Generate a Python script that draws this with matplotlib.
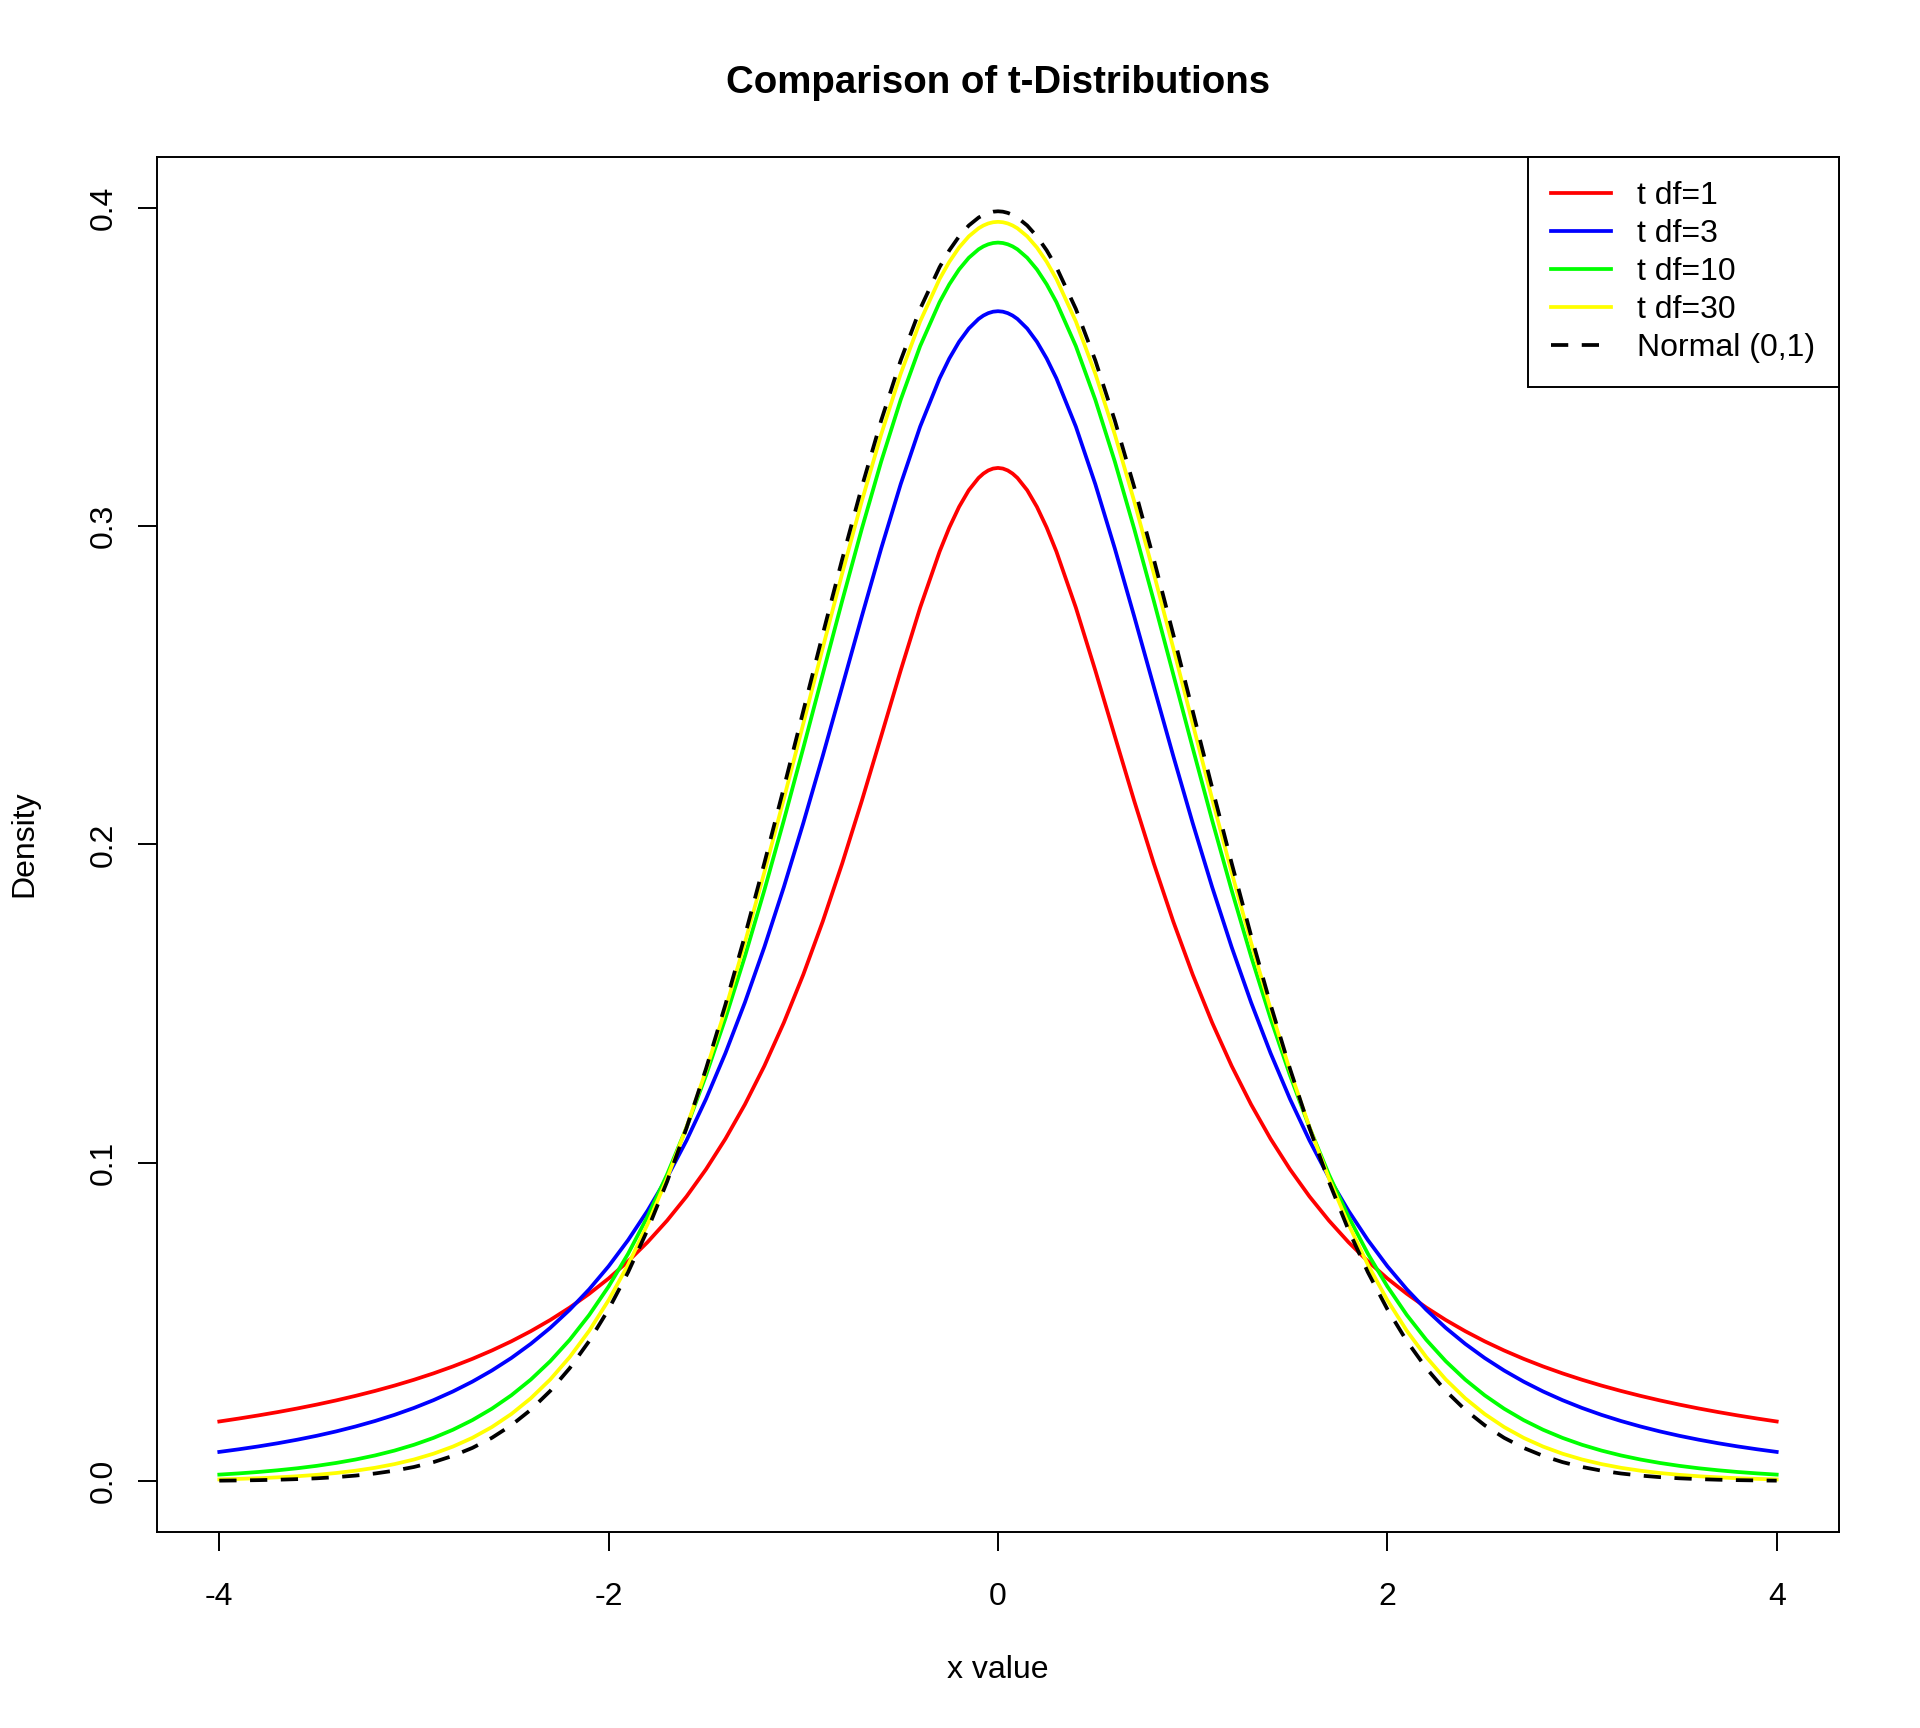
import matplotlib
matplotlib.use("Agg")
import matplotlib.pyplot as plt

plt.rcParams['font.family'] = ['Liberation Sans', 'DejaVu Sans']

# x positions the curves were read at (denser around the peak)
x_vals = [-4.0, -3.9, -3.8, -3.7, -3.6, -3.5, -3.4, -3.3, -3.2, -3.1, -3.0,
          -2.9, -2.8, -2.7, -2.6, -2.5, -2.4, -2.3, -2.2, -2.1, -2.0,
          -1.9, -1.8, -1.7, -1.6, -1.5, -1.4, -1.3, -1.2, -1.1, -1.0,
          -0.9, -0.8, -0.7, -0.6, -0.5, -0.4, -0.3, -0.25, -0.2, -0.15,
          -0.1, -0.075, -0.05, -0.025, 0.0, 0.025, 0.05, 0.075, 0.1,
          0.15, 0.2, 0.25, 0.3, 0.4, 0.5, 0.6, 0.7, 0.8, 0.9, 1.0,
          1.1, 1.2, 1.3, 1.4, 1.5, 1.6, 1.7, 1.8, 1.9, 2.0,
          2.1, 2.2, 2.3, 2.4, 2.5, 2.6, 2.7, 2.8, 2.9, 3.0,
          3.1, 3.2, 3.3, 3.4, 3.5, 3.6, 3.7, 3.8, 3.9, 4.0]

t_df1 = [0.01872, 0.01964, 0.02062, 0.02167, 0.02280, 0.02402, 0.02534, 0.02677,
         0.02832, 0.03000, 0.03183, 0.03383, 0.03601, 0.03840, 0.04102, 0.04390,
         0.04709, 0.05061, 0.05451, 0.05884, 0.06366, 0.06905, 0.07507, 0.08183,
         0.08941, 0.09794, 0.10754, 0.11833, 0.13045, 0.14403, 0.15915, 0.17586,
         0.19409, 0.21363, 0.23405, 0.25465, 0.27441, 0.29203, 0.29959, 0.30607,
         0.31131, 0.31516, 0.31653, 0.31752, 0.31811,
         0.31831,
         0.31811, 0.31752, 0.31653, 0.31516, 0.31131, 0.30607, 0.29959, 0.29203,
         0.27441, 0.25465, 0.23405, 0.21363, 0.19409, 0.17586, 0.15915, 0.14403,
         0.13045, 0.11833, 0.10754, 0.09794, 0.08941, 0.08183, 0.07507, 0.06905,
         0.06366, 0.05884, 0.05451, 0.05061, 0.04709, 0.04390, 0.04102, 0.03840,
         0.03601, 0.03383, 0.03183, 0.03000, 0.02832, 0.02677, 0.02534, 0.02402,
         0.02280, 0.02167, 0.02062, 0.01964, 0.01872]

t_df3 = [0.00916, 0.00998, 0.01088, 0.01188, 0.01299, 0.01422, 0.01560, 0.01715,
         0.01887, 0.02080, 0.02297, 0.02541, 0.02815, 0.03124, 0.03473, 0.03866,
         0.04311, 0.04813, 0.05382, 0.06025, 0.06751, 0.07571, 0.08496, 0.09535,
         0.10701, 0.12002, 0.13446, 0.15039, 0.16780, 0.18664, 0.20675, 0.22788,
         0.24967, 0.27159, 0.29301, 0.31318, 0.33128, 0.34645, 0.35270, 0.35794,
         0.36210, 0.36511, 0.36618, 0.36694, 0.36740,
         0.36755,
         0.36740, 0.36694, 0.36618, 0.36511, 0.36210, 0.35794, 0.35270, 0.34645,
         0.33128, 0.31318, 0.29301, 0.27159, 0.24967, 0.22788, 0.20675, 0.18664,
         0.16780, 0.15039, 0.13446, 0.12002, 0.10701, 0.09535, 0.08496, 0.07571,
         0.06751, 0.06025, 0.05382, 0.04813, 0.04311, 0.03866, 0.03473, 0.03124,
         0.02815, 0.02541, 0.02297, 0.02080, 0.01887, 0.01715, 0.01560, 0.01422,
         0.01299, 0.01188, 0.01088, 0.00998, 0.00916]

t_df10 = [0.00203, 0.00241, 0.00285, 0.00339, 0.00402, 0.00478, 0.00569, 0.00677,
          0.00805, 0.00958, 0.01140, 0.01356, 0.01612, 0.01915, 0.02273, 0.02694,
          0.03188, 0.03766, 0.04438, 0.05217, 0.06115, 0.07142, 0.08312, 0.09631,
          0.11108, 0.12745, 0.14539, 0.16485, 0.18566, 0.20761, 0.23036, 0.25353,
          0.27663, 0.29909, 0.32033, 0.33969, 0.35658, 0.37040, 0.37600, 0.38066,
          0.38433, 0.38698, 0.38791, 0.38857, 0.38897,
          0.38911,
          0.38897, 0.38857, 0.38791, 0.38698, 0.38433, 0.38066, 0.37600, 0.37040,
          0.35658, 0.33969, 0.32033, 0.29909, 0.27663, 0.25353, 0.23036, 0.20761,
          0.18566, 0.16485, 0.14539, 0.12745, 0.11108, 0.09631, 0.08312, 0.07142,
          0.06115, 0.05217, 0.04438, 0.03766, 0.03188, 0.02694, 0.02273, 0.01915,
          0.01612, 0.01356, 0.01140, 0.00958, 0.00805, 0.00677, 0.00569, 0.00478,
          0.00402, 0.00339, 0.00285, 0.00241, 0.00203]

t_df30 = [0.00052, 0.00069, 0.00090, 0.00117, 0.00151, 0.00196, 0.00253, 0.00326,
          0.00417, 0.00533, 0.00678, 0.00859, 0.01083, 0.01358, 0.01696, 0.02106,
          0.02600, 0.03192, 0.03895, 0.04721, 0.05685, 0.06798, 0.08071, 0.09510,
          0.11119, 0.12896, 0.14834, 0.16919, 0.19129, 0.21435, 0.23799, 0.26179,
          0.28523, 0.30777, 0.32884, 0.34788, 0.36432, 0.37768, 0.38307, 0.38755,
          0.39106, 0.39359, 0.39448, 0.39512, 0.39550,
          0.39563,
          0.39550, 0.39512, 0.39448, 0.39359, 0.39106, 0.38755, 0.38307, 0.37768,
          0.36432, 0.34788, 0.32884, 0.30777, 0.28523, 0.26179, 0.23799, 0.21435,
          0.19129, 0.16919, 0.14834, 0.12896, 0.11119, 0.09510, 0.08071, 0.06798,
          0.05685, 0.04721, 0.03895, 0.03192, 0.02600, 0.02106, 0.01696, 0.01358,
          0.01083, 0.00859, 0.00678, 0.00533, 0.00417, 0.00326, 0.00253, 0.00196,
          0.00151, 0.00117, 0.00090, 0.00069, 0.00052]

normal = [0.00013, 0.00020, 0.00029, 0.00042, 0.00061, 0.00087, 0.00123, 0.00172,
          0.00238, 0.00327, 0.00443, 0.00595, 0.00792, 0.01042, 0.01358, 0.01753,
          0.02239, 0.02833, 0.03547, 0.04398, 0.05399, 0.06562, 0.07895, 0.09405,
          0.11092, 0.12952, 0.14973, 0.17137, 0.19419, 0.21785, 0.24197, 0.26609,
          0.28969, 0.31225, 0.33322, 0.35207, 0.36827, 0.38139, 0.38667, 0.39104,
          0.39448, 0.39695, 0.39782, 0.39844, 0.39882,
          0.39894,
          0.39882, 0.39844, 0.39782, 0.39695, 0.39448, 0.39104, 0.38667, 0.38139,
          0.36827, 0.35207, 0.33322, 0.31225, 0.28969, 0.26609, 0.24197, 0.21785,
          0.19419, 0.17137, 0.14973, 0.12952, 0.11092, 0.09405, 0.07895, 0.06562,
          0.05399, 0.04398, 0.03547, 0.02833, 0.02239, 0.01753, 0.01358, 0.01042,
          0.00792, 0.00595, 0.00443, 0.00327, 0.00238, 0.00172, 0.00123, 0.00087,
          0.00061, 0.00042, 0.00029, 0.00020, 0.00013]

labels = ["t df=1", "t df=3", "t df=10", "t df=30", "Normal (0,1)"]
colors = ["#FF0000", "#0000FF", "#00FF00", "#FFFF00", "black"]

for s in (t_df1, t_df3, t_df10, t_df30, normal):
    assert len(s) == len(x_vals)

FS = 23
fig = plt.figure(figsize=(19.2, 17.28), dpi=100)
ax = fig.add_axes([0.08177, 0.11343, 0.87604, 0.79572])

lw = 2.7
for ys, c, lab in zip([t_df1, t_df3, t_df10, t_df30], colors[:4], labels[:4]):
    ax.plot(x_vals, ys, color=c, lw=lw, label=lab, solid_joinstyle="round")
ax.plot(x_vals, normal, color=colors[4], lw=lw, dashes=(4.6, 3.6), label=labels[4])

# R-style axis ranges (4% padding)
ax.set_xlim(-4.32, 4.32)
ax.set_ylim(-0.016, 0.416)
ax.set_xticks([-4, -2, 0, 2, 4])
ax.set_xticklabels(["-4", "-2", "0", "2", "4"])
ax.set_yticks([0.0, 0.1, 0.2, 0.3, 0.4])
ax.set_yticklabels(["0.0", "0.1", "0.2", "0.3", "0.4"], rotation=90, va="center")

for s in ax.spines.values():
    s.set_linewidth(1.4)
ax.tick_params(axis="both", direction="out", length=13.7, width=1.4, labelsize=FS)
ax.tick_params(axis="x", pad=22)
ax.tick_params(axis="y", pad=14)

fig.text(0.5198, 1 - 83 / 1728, "Comparison of t-Distributions", ha="center", va="center",
         fontsize=FS * 1.2, fontweight="bold")
fig.text(0.5198, 1 - 1670 / 1728, "x value", ha="center", va="center", fontsize=FS)
fig.text(24 / 1920, 1 - 844 / 1728, "Density", ha="center", va="center", rotation=90, fontsize=FS)

leg = ax.legend(loc="upper right", borderaxespad=0, fontsize=FS, fancybox=False,
                framealpha=1, edgecolor="black", handlelength=1.875, handletextpad=0.8,
                borderpad=0.75, labelspacing=0.25)
leg.get_frame().set_linewidth(1.4)

fig.savefig("out.png", dpi=100)
